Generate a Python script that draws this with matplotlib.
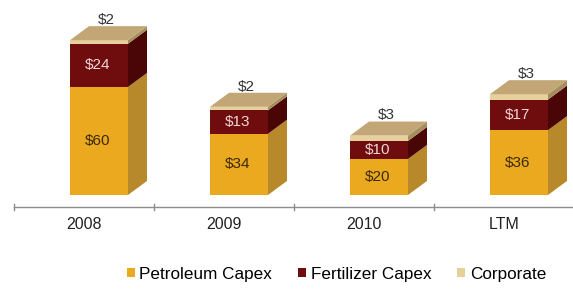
import matplotlib.pyplot as plt
from matplotlib.patches import Polygon, Patch

plt.rcParams['font.family'] = ['Liberation Sans', 'DejaVu Sans']

# chart data
years = ['2008', '2009', '2010', 'LTM']
petroleum = [60, 34, 20, 36]
fertilizer = [24, 13, 10, 17]
corporate = [2, 2, 3, 3]

series = [
    ('Petroleum Capex', petroleum, '#EBA91F', '#B8892A', '#3a2a05'),
    ('Fertilizer Capex', fertilizer, '#6E0C0E', '#4A0507', '#F3D6D6'),
    ('Corporate', corporate, '#E6D09C', '#A58D5C', '#333333'),
]
topColor = '#C2A676'

# 3d look: bar front width and depth offset (in data units)
barLeft = -0.1
barWid = 0.414
depthX = 0.136
depthY = 7.8

fig = plt.figure(figsize=(5.73, 2.89), dpi=100)
ax = fig.add_axes([14 / 573, 1 - 209.4 / 289, 560 / 573, 194.4 / 289])
ax.set_xlim(-0.5, 3.5)
ax.set_ylim(-8, 100)
ax.axis('off')

xs = [i + barLeft for i in range(len(years))]
bottoms = [0] * len(years)
for name, vals, front, side, txtCol in series:
    ax.bar(xs, vals, width=barWid, bottom=bottoms, align='edge', color=front, linewidth=0, zorder=2)
    for i, v in enumerate(vals):
        x1 = xs[i] + barWid
        y0 = bottoms[i]
        y1 = y0 + v
        ax.add_patch(Polygon([(x1, y0), (x1 + depthX, y0 + depthY), (x1 + depthX, y1 + depthY), (x1, y1)],
                             closed=True, facecolor=side, linewidth=0, zorder=1))
        if name == 'Corporate':
            ax.text(x1 - barWid / 2 + 0.05, y1 + depthY - 0.5, '$%d' % v, ha='center', va='bottom',
                    fontsize=11, color=txtCol, zorder=4)
        else:
            ax.text(x1 - barWid / 2 - 0.01, y0 + v / 2, '$%d' % v, ha='center', va='center',
                    fontsize=11, color=txtCol, zorder=4)
    bottoms = [b + v for b, v in zip(bottoms, vals)]

# top faces
for i, t in enumerate(bottoms):
    x0 = xs[i]
    x1 = x0 + barWid
    ax.add_patch(Polygon([(x0, t), (x1, t), (x1 + depthX, t + depthY), (x0 + depthX, t + depthY)],
                         closed=True, facecolor=topColor, linewidth=0, zorder=3))

# category axis line with ticks between groups
axY = -6.7
ax.plot([-0.5, 3.5], [axY, axY], color='#8c8c8c', linewidth=1, zorder=1, clip_on=False)
for tx in [-0.5, 0.5, 1.5, 2.5, 3.5]:
    ax.plot([tx, tx], [axY - 1.6, axY + 1.6], color='#8c8c8c', linewidth=1, clip_on=False)
for i, yr in enumerate(years):
    ax.text(i, axY - 5.5, yr, ha='center', va='top', fontsize=11.5, color='#222222')

handles = [Patch(facecolor=s[2], edgecolor='none', label=s[0]) for s in series]
fig.legend(handles=handles, loc='center', bbox_to_anchor=(0.587, 1 - 274 / 289), ncol=3, frameon=False,
           fontsize=12.3, handlelength=0.5, handleheight=0.5, handletextpad=0.25, columnspacing=1.5)

fig.savefig('out.png', dpi=100)
